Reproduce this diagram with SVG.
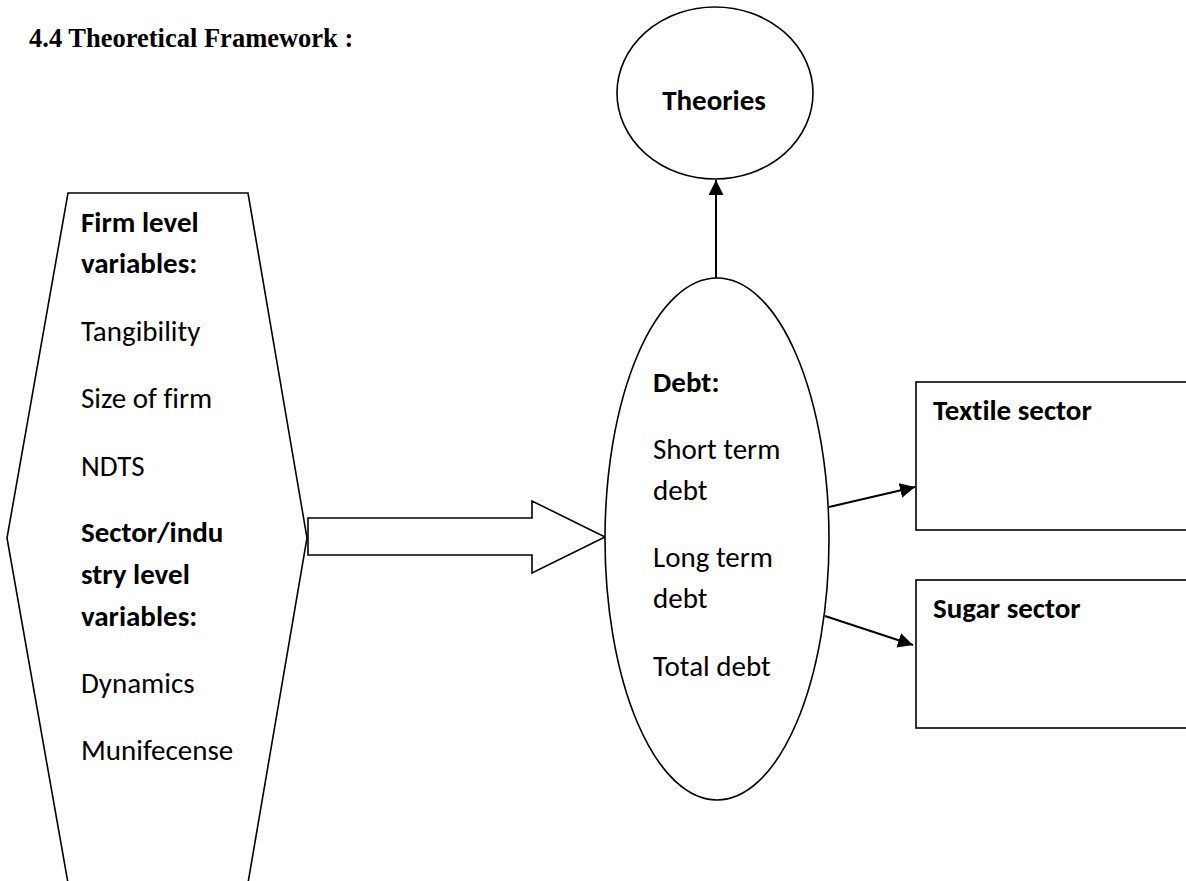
<svg xmlns="http://www.w3.org/2000/svg" width="1186" height="881" viewBox="0 0 1186 881">
<style>
.shape{fill:#fff;stroke:#000;stroke-width:1.6}
.t{font-family:Carlito,Lato,"Open Sans",sans-serif;font-size:29px;fill:#000;font-variant-ligatures:none;font-feature-settings:"liga" 0,"clig" 0}
.b{font-weight:bold}
.title{font-family:"Liberation Serif","Times New Roman",serif;font-size:26.5px;font-weight:bold;fill:#000}
.conn{stroke:#000;stroke-width:2;fill:none}
</style>
<defs>
<marker id="ah" markerUnits="userSpaceOnUse" markerWidth="16" markerHeight="16" refX="15" refY="7.5" orient="auto">
<path d="M0,0 L15,7.5 L0,15 z" fill="#000"/>
</marker>
</defs>
<rect width="1186" height="881" fill="#fff"/>
<text class="title" x="29" y="47">4.4 Theoretical Framework :</text>

<g id="variables">
<polygon class="shape" points="68,193 248,193 307,538 248,883 68,883 7,538"/>
<text class="t b" x="81" y="232">Firm level</text>
<text class="t b" x="81" y="273">variables:</text>
<text class="t" x="81" y="341">Tangibility</text>
<text class="t" x="81" y="408">Size of firm</text>
<text class="t" x="81" y="476">NDTS</text>
<text class="t b" x="81" y="542">Sector/indu</text>
<text class="t b" x="81" y="584">stry level</text>
<text class="t b" x="81" y="626">variables:</text>
<text class="t" x="81" y="693">Dynamics</text>
<text class="t" x="81" y="760">Munifecense</text>
</g>

<g id="block-arrow">
<polygon class="shape" points="308,518 532,518 532,501 605,537 532,573 532,555 308,555"/>
</g>

<g id="theories">
<ellipse class="shape" cx="715" cy="93" rx="98" ry="86"/>
<text class="t b" x="714" y="110" text-anchor="middle">Theories</text>
</g>

<g id="debt">
<ellipse class="shape" cx="717" cy="539" rx="112" ry="261"/>
<text class="t b" x="653" y="392">Debt:</text>
<text class="t" x="653" y="459">Short term</text>
<text class="t" x="653" y="500">debt</text>
<text class="t" x="653" y="567">Long term</text>
<text class="t" x="653" y="608">debt</text>
<text class="t" x="653" y="676">Total debt</text>
</g>

<g id="textile">
<rect class="shape" x="916" y="382" width="290" height="148"/>
<text class="t b" x="933" y="420">Textile sector</text>
</g>

<g id="sugar">
<rect class="shape" x="916" y="580" width="290" height="148"/>
<text class="t b" x="933" y="618">Sugar sector</text>
</g>

<g id="connectors">
<line class="conn" x1="716" y1="278" x2="716" y2="180" marker-end="url(#ah)"/>
<line class="conn" x1="829" y1="507" x2="915" y2="487" marker-end="url(#ah)"/>
<line class="conn" x1="825" y1="616" x2="913" y2="645" marker-end="url(#ah)"/>
</g>
</svg>
